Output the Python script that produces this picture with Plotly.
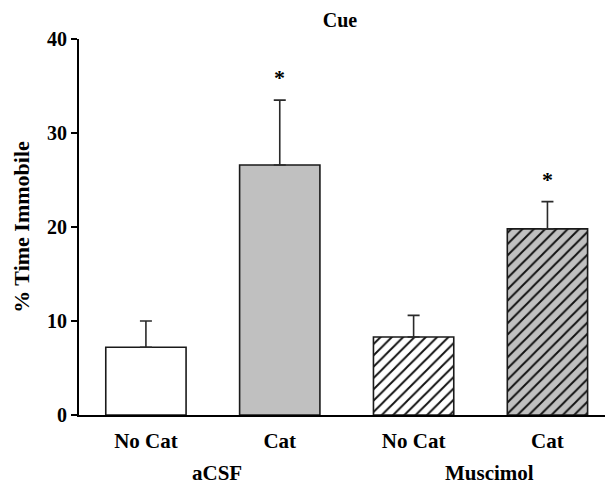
import plotly.graph_objects as go

# Percent time immobile during the cue test, by drug group and cat exposure
categories = ["No Cat", "Cat", "No Cat", "Cat"]
groups = ["aCSF", "Muscimol"]
means = [7.2, 26.6, 8.3, 19.8]
sem = [2.8, 6.9, 2.3, 2.9]
significant = [False, True, False, True]
y_ticks = [0, 10, 20, 30, 40]

# fill and hatching for each bar
fills = ["white", "#c0c0c0", "white", "#c0c0c0"]
hatches = ["", "", "/", "/"]

FONT = "Liberation Serif"
x_pos = list(range(len(categories)))

fig = go.Figure()
for xi, m, e, fill, hatch in zip(x_pos, means, sem, fills, hatches):
    fig.add_trace(go.Bar(
        x=[xi],
        y=[m],
        width=0.6,
        marker=dict(
            color=fill,
            line=dict(color="#1a1a1a", width=1.6),
            pattern=dict(
                shape=hatch,
                fillmode="replace",
                bgcolor=fill,
                fgcolor="#111111",
                size=8,
                solidity=0.24,
            ),
        ),
        error_y=dict(
            type="data",
            symmetric=False,
            array=[e],
            arrayminus=[0],
            color="#2a2a2a",
            thickness=1.6,
            width=6,
        ),
        showlegend=False,
    ))

# significance markers above the error bars
for xi, m, e, sig in zip(x_pos, means, sem, significant):
    if sig:
        fig.add_annotation(
            x=xi, y=m + e, xref="x", yref="y",
            text="*", showarrow=False,
            yanchor="bottom", yshift=8,
            font=dict(family=FONT, size=22, color="black"),
        )

# group labels under each pair of bars
for gi, g in enumerate(groups):
    fig.add_annotation(
        x=2 * gi + 0.53 + 0.04 * gi, y=-0.154, xref="x", yref="paper",
        text=g, showarrow=False, yanchor="middle",
        font=dict(family=FONT, size=21, color="black", weight="bold"),
    )

fig.update_layout(
    width=605, height=484,
    margin=dict(l=79, r=0, t=39, b=69),
    barmode="overlay",
    paper_bgcolor="white", plot_bgcolor="white",
    font=dict(family=FONT, size=21, color="black", weight="bold"),
    title=dict(
        text="Cue", x=0.562, xref="container", xanchor="center",
        y=0.958, yref="container", yanchor="middle",
        font=dict(family=FONT, size=20, color="black", weight="bold"),
    ),
    xaxis=dict(
        range=[-0.5, 3.43],
        tickvals=x_pos, ticktext=categories,
        showline=True, linecolor="black", linewidth=2,
        ticks="", showgrid=False, zeroline=False,
        ticklabelstandoff=6,
        tickfont=dict(family=FONT, size=21, color="black", weight="bold"),
    ),
    yaxis=dict(
        range=[0, 40],
        tickvals=y_ticks,
        showline=True, linecolor="black", linewidth=2,
        ticks="outside", ticklen=6, tickwidth=1.5, tickcolor="black",
        showgrid=False, zeroline=False,
        tickfont=dict(family=FONT, size=20, color="black", weight="bold"),
        title=dict(
            text="% Time Immobile", standoff=11,
            font=dict(family=FONT, size=22, color="black", weight="bold"),
        ),
    ),
)

fig.write_html("out.html")
